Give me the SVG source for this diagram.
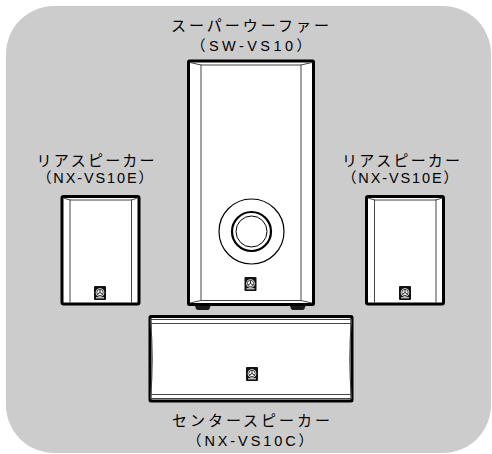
<svg xmlns="http://www.w3.org/2000/svg" xmlns:xlink="http://www.w3.org/1999/xlink" width="492" height="454" viewBox="0 0 492 454">
  <style>
    .bg { fill: #cccccc; }
    .box { fill: #ffffff; stroke: #000000; stroke-width: 3; }
    .edge { fill: none; stroke: #444444; stroke-width: 1; }
    .ring { fill: none; stroke: #000000; }
    .foot { fill: #1a1a1a; }
    .label { font-family: "Noto Sans CJK JP", "Liberation Sans", sans-serif; font-size: 15px; fill: #000000; text-anchor: middle; }
    .model { font-family: "Liberation Sans", "Noto Sans CJK JP", sans-serif; font-size: 14.5px; fill: #000000; text-anchor: middle; }
  </style>
  <defs>
    <!-- maker badge on the speaker fronts -->
    <g id="badge">
      <rect x="0" y="0" width="12" height="14" rx="1" fill="#111111"/>
      <circle cx="6" cy="6.5" r="4.3" fill="#ffffff"/>
      <circle cx="6" cy="6.5" r="3.2" fill="none" stroke="#111111" stroke-width="0.8"/>
      <path d="M6 6.5 V3.6 M6 6.5 L3.5 8 M6 6.5 L8.5 8" stroke="#111111" stroke-width="0.9" fill="none"/>
      <rect x="2" y="11.3" width="8" height="1" fill="#ffffff"/>
    </g>
  </defs>

  <rect class="bg" x="6" y="6" width="485" height="447" rx="48" ry="48"/>

  <!-- subwoofer -->
  <g id="subwoofer">
    <path class="foot" d="M195 306 H210.5 L209.5 308.8 Q209 310 207.5 310 H198 Q196.5 310 196 308.8 Z"/>
    <path class="foot" d="M290 306 H305.5 L304.5 308.8 Q304 310 302.5 310 H293 Q291.5 310 291 308.8 Z"/>
    <rect class="box" x="188.5" y="61" width="125" height="243.5" rx="1"/>
    <path class="edge" d="M201 64.5 V300.5 M301 64.5 V300.5 M190 62.5 L201 65 H301 L312 62.5 M190 303 L201 300.5 H301 L312 303"/>
    <circle class="ring" cx="251.5" cy="231.5" r="32.5" stroke-width="1.2"/>
    <circle class="ring" cx="251.5" cy="231.5" r="19.5" stroke-width="2.2"/>
    <circle class="ring" cx="251.5" cy="231.5" r="15.5" stroke-width="1"/>
    <use xlink:href="#badge" x="244.5" y="277"/>
    <text class="label" x="250" y="31" textLength="158" lengthAdjust="spacing">スーパーウーファー</text>
    <text class="model" x="251" y="51" textLength="120" lengthAdjust="spacing">（SW-VS10）</text>
  </g>

  <!-- left rear speaker -->
  <g id="rear-left">
    <rect class="box" x="62" y="196.5" width="77" height="107.5" rx="1.5"/>
    <path class="edge" d="M70 199.5 V302.5 M131.5 199.5 V302.5 M63.5 198 L70 200 H131.5 L137.5 198"/>
    <use xlink:href="#badge" x="94" y="286"/>
    <text class="label" x="95.5" y="166" textLength="118" lengthAdjust="spacing">リアスピーカー</text>
    <text class="model" x="95" y="183" textLength="116" lengthAdjust="spacing">（NX-VS10E）</text>
  </g>

  <!-- right rear speaker -->
  <g id="rear-right">
    <rect class="box" x="366.5" y="196.5" width="77" height="107.5" rx="1.5"/>
    <path class="edge" d="M374.5 199.5 V302.5 M436 199.5 V302.5 M368 198 L374.5 200 H436 L442 198"/>
    <use xlink:href="#badge" x="399" y="286"/>
    <text class="label" x="401" y="166" textLength="118" lengthAdjust="spacing">リアスピーカー</text>
    <text class="model" x="400" y="183" textLength="116" lengthAdjust="spacing">（NX-VS10E）</text>
  </g>

  <!-- centre speaker -->
  <g id="center">
    <rect class="box" x="150" y="316.5" width="202" height="84.5" rx="1"/>
    <path class="edge" d="M150 319.5 H352 M150 323.5 H352 M150 394.5 H352 M150 398.5 H352 M150.5 319.5 Q154 359 150.5 398.5 M351.5 319.5 Q348 359 351.5 398.5"/>
    <use xlink:href="#badge" x="246" y="367"/>
    <text class="label" x="251" y="426" textLength="158" lengthAdjust="spacing">センタースピーカー</text>
    <text class="model" x="250" y="446" textLength="126" lengthAdjust="spacing">（NX-VS10C）</text>
  </g>
</svg>
